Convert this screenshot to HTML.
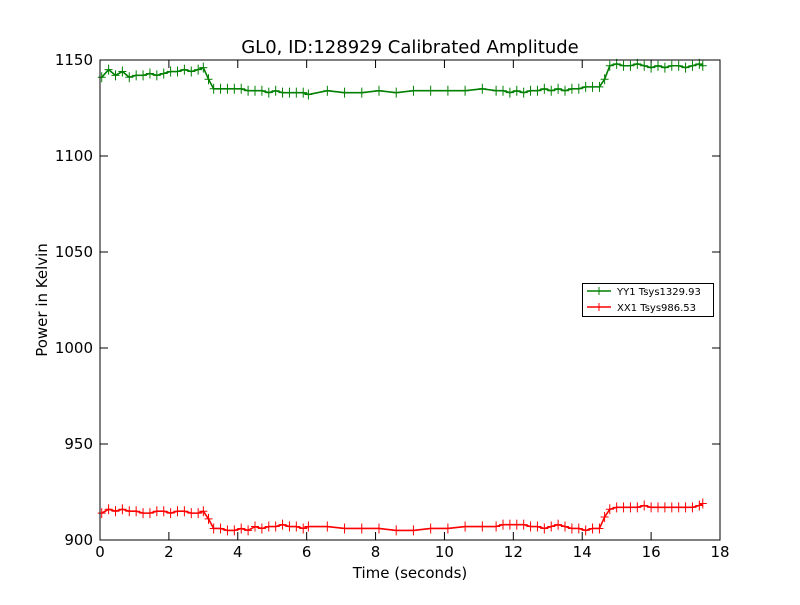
<!DOCTYPE html>
<html><head><meta charset="utf-8"><style>
body{margin:0;background:#fff;}
svg text{font-family:"DejaVu Sans","Liberation Sans",sans-serif;}
</style></head><body>
<svg id="chart" width="800" height="600" xmlns="http://www.w3.org/2000/svg">
<rect width="800" height="600" fill="#fff"/>
<text x="410" y="53" font-size="18" text-anchor="middle">GL0, ID:128929 Calibrated Amplitude</text>
<text x="410" y="578" font-size="15" text-anchor="middle">Time (seconds)</text>
<text x="47" y="300" font-size="15" text-anchor="middle" transform="rotate(-90 47 300)">Power in Kelvin</text>
<g id="plot"></g>
<rect x="100" y="60" width="620" height="480" fill="none" stroke="#000" stroke-width="1"/>
<g>
<rect x="582.5" y="283.5" width="131" height="33" fill="#fff" stroke="#000"/>
<line x1="587" y1="291" x2="611" y2="291" stroke="#008000" stroke-width="1.5"/><line x1="599" y1="287" x2="599" y2="295" stroke="#008000"/>
<text x="617" y="295" font-size="10">YY1 Tsys1329.93</text>
<line x1="587" y1="307" x2="611" y2="307" stroke="#ff0000" stroke-width="1.5"/><line x1="599" y1="303" x2="599" y2="311" stroke="#ff0000"/>
<text x="617" y="311" font-size="10">XX1 Tsys986.53</text>
</g>
</svg>
<script>
const times=[0.05,0.25,0.45,0.65,0.85,1.05,1.25,1.45,1.65,1.85,2.05,2.25,2.45,2.65,2.85,3.0,3.15,
3.3,3.5,3.7,3.9,4.1,4.3,4.5,4.7,4.9,5.1,5.3,5.5,5.7,5.9,6.05,
6.6,7.1,7.6,8.1,8.6,9.1,9.6,10.1,10.6,11.1,11.5,
11.7,11.9,12.1,12.3,12.5,12.7,12.9,13.1,13.3,13.5,13.7,13.9,14.1,14.3,14.5,14.65,
14.8,15.0,15.2,15.4,15.6,15.8,16.0,16.2,16.4,16.6,16.8,17.0,17.2,17.4,17.5];
const yy1=[1141,1145,1142,1144,1141,1142,1142,1143,1142,1143,1144,1144,1145,1144,1145,1146,1140,
1135,1135,1135,1135,1135,1134,1134,1134,1133,1134,1133,1133,1133,1133,1132,
1134,1133,1133,1134,1133,1134,1134,1134,1134,1135,1134,
1134,1133,1134,1133,1134,1134,1135,1134,1135,1134,1135,1135,1136,1136,1136,1140,
1147,1148,1147,1147,1148,1147,1146,1147,1146,1147,1147,1146,1147,1148,1147];
const xx1=[914,916,915,916,915,915,914,914,915,915,914,915,915,914,914,915,911,
906,906,905,905,906,905,907,906,907,907,908,907,907,906,907,
907,906,906,906,905,905,906,906,907,907,907,
908,908,908,908,907,907,906,907,908,907,906,906,905,906,906,912,
916,917,917,917,917,918,917,917,917,917,917,917,917,918,919];
const xTicks=[0,2,4,6,8,10,12,14,16,18];
const yTicks=[900,950,1000,1050,1100,1150];
const NS='http://www.w3.org/2000/svg';
const sx=v=>100+v*620/18;
const sy=v=>540-(v-900)*480/250;
const g=document.getElementById('plot');
function mk(t,a){const e=document.createElementNS(NS,t);for(const k in a)e.setAttribute(k,a[k]);return e;}
xTicks.forEach(t=>{
 const x=sx(t);
 const tk=mk('path',{d:`M${x},540V532M${x},60V68`,stroke:'#000'});
 
 
 g.appendChild(tk);
 const l=mk('text',{x:x,y:557,'font-size':15,'text-anchor':'middle'});
 
 
 l.textContent=t;g.appendChild(l);
});
yTicks.forEach(t=>{
 const y=sy(t);
 const tk=mk('path',{d:`M100,${y}H108M720,${y}H712`,stroke:'#000'});
 
 
 g.appendChild(tk);
 const l=mk('text',{x:93,y:y+5,'font-size':15,'text-anchor':'end'});
 
 
 l.textContent=t;g.appendChild(l);
});
function series(vals,color,name){
 const pts=times.map((t,i)=>sx(t)+','+sy(vals[i])).join(' ');
 const pl=mk('polyline',{points:pts,fill:'none',stroke:color,'stroke-width':1.6});
 
 
 g.appendChild(pl);
 let d='';
 times.forEach((t,i)=>{const x=sx(t),y=sy(vals[i]);d+=`M${x-4},${y}H${x+4}M${x},${y-5}V${y+5}`;});
 const m=mk('path',{d:d,stroke:color,'stroke-width':1});
 
 
 g.appendChild(m);
}
series(yy1,'#008000','yy1');
series(xx1,'#ff0000','xx1');
</script>
</body></html>
